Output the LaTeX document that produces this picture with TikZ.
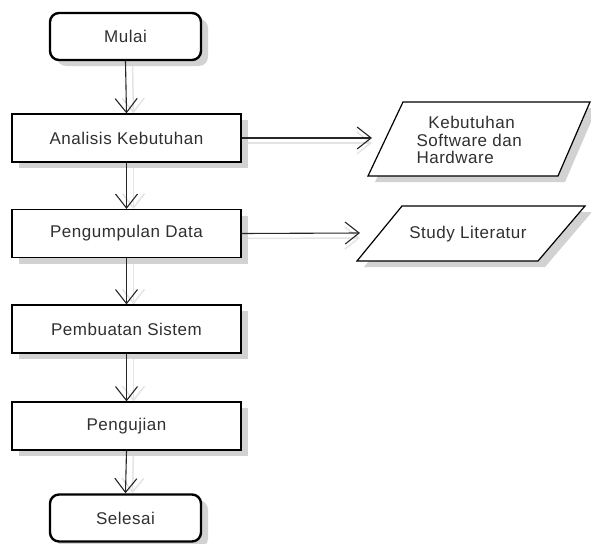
\documentclass[tikz,border=0pt]{standalone}
\usepackage{fontspec}
\setmainfont{Liberation Sans}[LetterSpace=3]
\usetikzlibrary{arrows.meta,shadows,backgrounds}
\definecolor{txt}{HTML}{303030}
\definecolor{shade}{HTML}{D2D2D2}
\definecolor{lineshade}{HTML}{E4E4E4}
\begin{document}
\begin{tikzpicture}[x=1pt,y=-1pt,
  font=\fontsize{17}{17.8}\selectfont, text=txt,
  boxshadow/.style={drop shadow={shadow xshift=7pt,shadow yshift=-6pt,fill=shade,opacity=1}},
  procbox/.style={draw=black,line width=1.2pt,fill=white,minimum width=229pt,minimum height=48pt,inner sep=0pt,boxshadow},
  termbox/.style={draw=black,line width=2.4pt,rounded corners=9pt,fill=white,minimum width=151pt,minimum height=47pt,inner sep=0pt,boxshadow},
  iobox/.style={draw=black,line width=1.2pt,fill=white,boxshadow},
  flow/.style={draw=black!85,line width=1.1pt,-{Straight Barb[length=14pt,width=22pt,line width=1.1pt]}},
  flowshadow/.style={draw=lineshade,line width=1.5pt,-{Straight Barb[length=14pt,width=22pt,line width=1.5pt]}},
]
\useasboundingbox (0,0) rectangle (591,543);

% main process column
\node[termbox] (mulai) at (125.5,36.5) {Mulai};
\node[procbox] (ana)   at (126.5,138)  {Analisis Kebutuhan\hspace{6pt}};
\node[procbox] (kumpul) at (126.5,233.5) {Pengumpulan Data\hspace{4pt}};
\node[procbox] (buat)  at (126.5,329)  {Pembuatan Sistem\hspace{8pt}};
\node[procbox] (uji)   at (126.5,426)  {Pengujian};
\node[termbox] (selesai) at (125.5,518) {Selesai};

% data / input-output shapes
\path[iobox] (403,102) -- (590,102) -- (558,176) -- (368,176) -- cycle;
\node[anchor=west,align=left] (kebutuhan) at (413,140)
  {\hspace{0.7em}Kebutuhan\\Software dan\\Hardware};
\coordinate (k1in) at (372,138);

\path[iobox] (402,206) -- (585,206) -- (538,261) -- (357,261) -- cycle;
\node (studi) at (468,234) {Study Literatur};
\coordinate (k2in) at (360,233);

% faint shadows of the connectors
\begin{scope}[on background layer]
  \begin{scope}[transform canvas={xshift=7pt}]
    \draw[flowshadow] (mulai.south) -- (ana.north);
    \draw[flowshadow] (ana.south) -- (kumpul.north);
    \draw[flowshadow] (kumpul.south) -- (buat.north);
    \draw[flowshadow] (buat.south) -- (uji.north);
    \draw[flowshadow] (uji.south) -- (selesai.north);
  \end{scope}
  \begin{scope}[transform canvas={yshift=-5pt}]
    \draw[flowshadow] (ana.east) -- (k1in);
    \draw[flowshadow] (kumpul.east) -- (k2in);
  \end{scope}
\end{scope}

% connectors
\draw[flow] (mulai.south) -- (ana.north);
\draw[flow] (ana.south) -- (kumpul.north);
\draw[flow] (kumpul.south) -- (buat.north);
\draw[flow] (buat.south) -- (uji.north);
\draw[flow] (uji.south) -- (selesai.north);
\draw[flow] (ana.east) -- (k1in);
\draw[flow] (kumpul.east) -- (k2in);
\end{tikzpicture}
\end{document}
